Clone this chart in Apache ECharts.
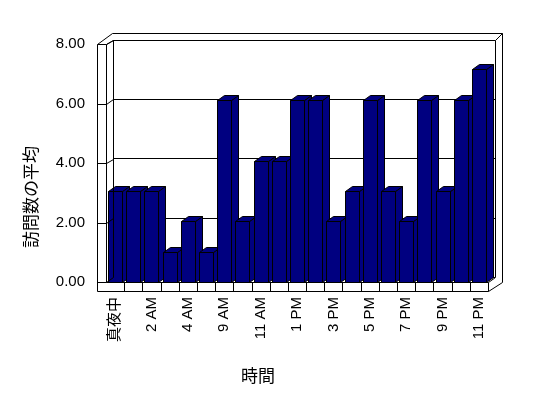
<!DOCTYPE html>
<html>
<head>
<meta charset="utf-8">
<script src="https://cdn.jsdelivr.net/npm/echarts@6/dist/echarts.min.js"></script>
<style>
  html, body { margin: 0; padding: 0; background: #fff; }
  #chart { width: 548px; height: 398px; }
</style>
</head>
<body>
<div id="chart"></div>
<script>
// 時間帯ごとの訪問数の平均
var categories = ['真夜中', '1 AM', '2 AM', '3 AM', '4 AM', '7 AM', '9 AM', '10 AM', '11 AM', '正午', '1 PM',
    '2 PM', '3 PM', '4 PM', '5 PM', '6 PM', '7 PM', '8 PM', '9 PM', '10 PM', '11 PM'];
var visits = [3, 3, 3, 1, 2, 1, 6, 2, 4, 4, 6, 6, 2, 3, 6, 3, 2, 6, 3, 6, 7];
var yTicks = [0, 2, 4, 6, 8];

var font = '"Liberation Sans", "Noto Sans CJK JP", sans-serif';
var navy = '#000080';
var dx = 7, dy = 5; // 奥行き

var myChart = echarts.init(document.getElementById('chart'));

// 3Dっぽい棒
function renderBar(params, api) {
    var idx = api.value(0);
    var val = api.value(1);
    var base = api.coord([idx, 0]);
    var top = api.coord([idx, val]);
    var w = api.size([1, 0])[0] * 0.77;
    var x0 = Math.round(top[0] - w / 2) + 0.5;
    var x1 = Math.round(top[0] + w / 2) + 0.5;
    var y0 = Math.round(top[1]) + 0.5;
    var yb = Math.round(base[1]) + 0.5;
    var st = { fill: navy, stroke: '#000', lineWidth: 1 };
    return {
        type: 'group',
        children: [
            { type: 'polygon', shape: { points: [[x1, y0], [x1 + dx, y0 - dy], [x1 + dx, yb - dy], [x1, yb]] }, style: st },
            { type: 'polygon', shape: { points: [[x0, y0], [x0 + dx, y0 - dy], [x1 + dx, y0 - dy], [x1, y0]] }, style: st },
            { type: 'rect', shape: { x: x0, y: y0, width: x1 - x0, height: yb - y0 }, style: st }
        ]
    };
}

var barData = visits.map(function (v, i) { return [i, v]; });

var option = {
    animation: false,
    grid: [
        // 目盛りラベル用
        { left: 106, right: 60, top: 44, bottom: 116 },
        // 棒
        { left: 106, right: 60, top: 39, bottom: 116 },
        // 奥の壁
        { left: 113, right: 53, top: 40, bottom: 121 }
    ],
    xAxis: [
        {
            gridIndex: 0, type: 'category', data: categories,
            axisLine: { show: false }, axisTick: { show: false },
            axisLabel: { rotate: 90, interval: 1, margin: 15, color: '#000', fontSize: 15, fontFamily: font }
        },
        { gridIndex: 1, type: 'category', data: categories, show: false },
        { gridIndex: 2, type: 'category', data: categories, show: false }
    ],
    yAxis: [
        {
            gridIndex: 0, type: 'value', min: 0, max: 8, interval: 2,
            axisLine: { show: false }, axisTick: { show: false }, splitLine: { show: false },
            axisLabel: {
                margin: 21, color: '#000', fontSize: 15, fontFamily: font,
                formatter: function (v) { return v.toFixed(2); }
            }
        },
        { gridIndex: 1, type: 'value', min: 0, max: 8, interval: 2, show: false },
        {
            gridIndex: 2, type: 'value', min: 0, max: 8, interval: 2,
            axisLine: { show: false }, axisTick: { show: false }, axisLabel: { show: false },
            splitLine: { show: true, lineStyle: { color: '#000', width: 1 } }
        }
    ],
    series: [{
        type: 'custom',
        xAxisIndex: 1,
        yAxisIndex: 1,
        renderItem: renderBar,
        data: barData,
        z: 5
    }]
};
myChart.setOption(option);

// 枠（壁と床）
function px(v) { return Math.round(v) + 0.5; }
var L = 106, R = 488, B = 282, FB = 291, WL = 97;
var BL = 113, BR = 495, BT = 40, BB = 277, OT = 33, OR = 502;
var WT = myChart.convertToPixel({ yAxisIndex: 0 }, yTicks[yTicks.length - 1]);
var lines = [];
function seg(x1, y1, x2, y2) {
    lines.push({
        type: 'line', silent: true, z: 10,
        shape: { x1: px(x1), y1: px(y1), x2: px(x2), y2: px(y2) },
        style: { stroke: '#000', lineWidth: 1 }
    });
}
// 左の壁
seg(WL, WT, WL, FB);
seg(L, WT, L, B);
seg(WL, WT, BL - 1, OT);
seg(L, WT, BL, BT);
yTicks.forEach(function (t) {
    var yf = myChart.convertToPixel({ yAxisIndex: 0 }, t);
    var yb = myChart.convertToPixel({ yAxisIndex: 2 }, t);
    seg(WL, yf, L, yf);
    seg(L, yf, BL, yb);
});
// 奥の壁
seg(BL - 1, OT, OR, OT);
seg(BL, BT, BR, BT);
seg(BR, BT, OR, OT);
seg(OR, OT, OR, FB - 9);
seg(BR, BT, BR, BB);
seg(BL, BT, BL, BB);
// 床
lines.push({
    type: 'rect', silent: true, z: 9,
    shape: { x: px(L), y: px(B), width: R - L, height: FB - B },
    style: { fill: '#fff', stroke: null }
});
seg(L, B, R, B);
seg(WL, FB, R, FB);
seg(R, B, R, FB);
seg(R, B, BR, BB);
seg(R, FB, OR, FB - 9);
for (var i = 1; i < categories.length; i++) {
    var cx = (myChart.convertToPixel({ xAxisIndex: 1 }, i - 1) + myChart.convertToPixel({ xAxisIndex: 1 }, i)) / 2;
    seg(cx, B, cx, FB);
}

myChart.setOption({
    graphic: lines.concat([
        {
            type: 'text', x: 32, y: 197, rotation: Math.PI / 2,
            style: { text: '訪問数の平均', fill: '#000', font: '17px ' + font, align: 'center', verticalAlign: 'middle' }
        },
        {
            type: 'text', x: 258, y: 377,
            style: { text: '時間', fill: '#000', font: '17px ' + font, align: 'center', verticalAlign: 'middle' }
        }
    ])
});

window.addEventListener('resize', function () {
    myChart.resize();
});
</script>
</body>
</html>
